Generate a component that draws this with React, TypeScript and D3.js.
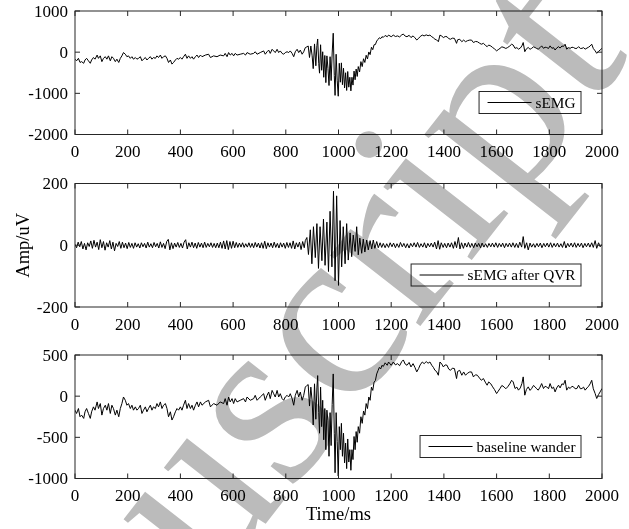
import React from 'react';
import * as d3 from 'd3';

type Pt = [number, number];

const timeTicks = [0, 200, 400, 600, 800, 1000, 1200, 1400, 1600, 1800, 2000];
const semgTicks = [-2000, -1000, 0, 1000];
const qvrTicks = [-200, 0, 200];
const baselineTicks = [-1000, -500, 0, 500];

// shared slow wander before the burst (ms, uV)
const sharedPre: Pt[] = [
  [0,-170],[6,-210],[13,-150],[19,-250],[25,-230],[33,-270],[38,-190],[44,-150],[51,-210],[58,-270],[63,-190],[70,-130],[76,-170],[84,-70],[89,-150],[96,-90],[102,-230],[108,-150],[115,-110],[121,-170],[127,-90],[134,-210],[140,-110],[146,-150],[153,-230],[159,-170],[166,-250],[172,-150],[178,-90],[184,-10],[191,-50],[197,-110],[203,-90],[210,-150],[216,-110],[222,-170],[229,-130],[235,-170],[241,-150],[248,-110],[254,-210],[260,-170],[267,-130],[273,-190],[279,-150],[286,-110],[292,-170],[298,-130],[305,-150],[311,-90],[317,-130],[324,-70],[330,-150],[336,-110],[343,-90],[349,-150],[355,-250],[362,-190],[368,-290],[374,-250],[381,-190],[387,-150],[393,-170],[400,-130],[406,-170],[412,-110],[419,-50],[425,-150],[431,-90],[438,-150],[444,-110],[450,-170],[457,-110],[463,-70],[469,-130],[476,-70],[482,-110],[495,-70],[507,-50],[514,-130],[526,-90],[539,-110],[551,-70],[564,-90],[570,-30],[577,-110],[583,-10],[589,-70],[596,-30],[602,-90],[608,-30],[615,-70],[627,-50],[640,-30],[647,-70],[653,-10],[665,-50],[678,-30],[684,10],[691,-50],[703,-10],[716,30],[722,-50],[729,10],[735,50],[741,-30],[748,70],[754,30],[760,-10],[767,70],[773,-10],[779,30],[786,-30],[792,-50],[798,-10],[805,10],[811,-10],[817,30],[824,-30],[830,-110],[836,10],[843,70],[849,-10],[855,50],[862,-50],[868,10],[874,110],[880,130]
];

const semgBurst: Pt[] = [
  [885,150],[890,-130],[895,150],[900,-90],[904,-400],[909,200],[914,-330],[918,160],[921,320],[925,-270],[928,-510],[932,180],[936,-440],[940,10],[944,-610],[948,-80],[952,-740],[956,-90],[960,-390],[964,-810],[968,-110],[972,-690],[976,-20],[980,460],[984,-570],[987,-1050],[991,-50],[995,-680],[999,-1070],[1003,-270],[1007,-730],[1011,-260],[1015,-790],[1019,-390],[1023,-870],[1027,-500],[1031,-930],[1035,-470],[1039,-850],[1043,-610],[1047,-940],[1051,-610],[1055,-800],[1059,-460],[1063,-670],[1067,-410],[1071,-590],[1075,-350],[1080,-480],[1085,-230],[1090,-350],[1095,-160],[1100,-250],[1105,-75],[1110,-165],[1115,5],[1120,-60],[1125,120],[1130,60],[1135,180],[1140,185]
];

const baselineBurst: Pt[] = [
  [885,140],[890,-120],[895,110],[900,-60],[904,-350],[909,150],[914,-280],[918,100],[921,250],[925,-200],[928,-450],[932,110],[936,-370],[940,-50],[944,-530],[948,-150],[952,-650],[956,-170],[960,-300],[964,-730],[968,-200],[972,-600],[976,-100],[980,270],[984,-450],[987,-930],[991,-200],[995,-550],[999,-970],[1003,-370],[1007,-650],[1011,-330],[1015,-730],[1019,-450],[1023,-810],[1027,-570],[1031,-880],[1035,-520],[1039,-800],[1043,-650],[1047,-900],[1051,-650],[1055,-770],[1059,-490],[1063,-650],[1067,-430],[1071,-560],[1075,-370],[1080,-450],[1085,-250],[1090,-330],[1095,-180],[1100,-230],[1105,-90],[1110,-150],[1115,-10],[1120,-50],[1125,110],[1130,70],[1135,170],[1140,190]
];

const sharedPost: Pt[] = [
  [1145,270],[1150,310],[1155,350],[1160,330],[1165,375],[1170,360],[1177,405],[1185,375],[1190,415],[1200,375],[1208,415],[1216,380],[1224,395],[1232,370],[1240,420],[1246,440],[1253,390],[1260,375],[1268,410],[1275,355],[1283,395],[1290,350],[1297,295],[1304,335],[1310,380],[1318,415],[1325,395],[1333,420],[1340,400],[1347,415],[1354,375],[1360,350],[1366,314],[1372,300],[1379,254],[1385,415],[1392,390],[1398,355],[1405,380],[1412,375],[1418,330],[1425,314],[1432,340],[1440,335],[1448,214],[1452,300],[1460,314],[1468,254],[1475,294],[1482,254],[1490,280],[1498,294],[1505,294],[1512,234],[1520,260],[1527,254],[1535,220],[1542,193],[1550,214],[1557,170],[1564,133],[1570,173],[1578,150],[1585,113],[1592,80],[1600,32],[1606,60],[1613,93],[1620,130],[1628,113],[1635,90],[1642,113],[1650,150],[1657,193],[1663,173],[1670,93],[1677,110],[1683,73],[1690,100],[1696,153],[1701,234],[1707,12],[1713,80],[1720,113],[1727,70],[1733,93],[1740,130],[1746,113],[1752,90],[1758,73],[1765,110],[1771,153],[1778,93],[1784,120],[1790,113],[1797,90],[1803,153],[1810,93],[1816,110],[1822,52],[1828,100],[1835,133],[1841,100],[1848,150],[1854,140],[1860,193],[1866,73],[1873,110],[1879,93],[1886,120],[1892,113],[1898,90],[1905,93],[1911,133],[1918,90],[1924,93],[1930,110],[1936,73],[1943,100],[1949,120],[1955,150],[1961,193],[1967,90],[1974,32],[1980,-28],[1987,20],[1993,52],[2000,93]
];

const qvrResidual: Pt[] = [
  [0,3],[6,-8],[12,10],[18,-5],[24,12],[30,-12],[36,6],[42,-15],[48,8],[54,-4],[60,14],[66,-10],[72,16],[78,-6],[84,10],[90,-14],[96,18],[102,-8],[108,12],[114,-16],[120,8],[126,-6],[132,15],[138,-12],[144,10],[150,-18],[156,6],[162,-4],[168,12],[174,-10],
  [180,10],[186,-8],[192,7],[198,-11],[204,9],[210,-7],[216,6],[222,-10],[228,8],[234,-6],[240,5],[246,-9],[252,8],[258,-5],[264,6],[270,-9],[276,10],[282,-6],[288,5],[294,-8],[300,9],[306,-5],[312,6],[318,-9],[324,11],[330,-7],[336,6],[342,-11],[348,12],[354,19],[360,-15],[366,8],[372,-11],[378,7],[384,-6],[390,9],[396,-7],[402,6],[408,-9],[414,10],[420,18],[426,-12],[432,8],[438,-6],[444,10],[450,-8],[456,7],[462,-10],[468,9],[474,-6],[480,7],[486,-8],[492,10],[498,-7],[504,6],[510,-5],[516,8],[522,-7],[528,6],[534,-8],
  [540,7],[546,-8],[552,10],[558,-10],[564,14],[570,-12],[576,15],[582,-14],[588,12],[594,-10],[600,13],[606,-8],[612,9],[618,-7],[624,7],[630,-6],[636,8],[642,-7],[648,5],[654,-6],[660,8],[666,-7],[672,6],[678,-8],[684,9],[690,-6],[696,7],[702,-9],[708,8],[714,-10],[720,13],[726,-11],[732,8],[738,-6],[744,7],[750,-8],[756,10],[762,-7],[768,6],[774,-9],[780,8],[786,-6],[792,7],[798,-10],[804,9],[810,-7],[816,8],[822,-10],[828,14],[834,-12],[840,8],[846,-6],[852,10],[858,-14],[864,12],[870,-8],
  [874,15],[880,25],[886,-30],[893,50],[899,-60],[905,60],[912,-40],[918,70],[924,-75],[930,60],[937,-50],[943,85],[949,-65],[956,75],[962,-85],[968,110],[975,-70],[981,175],[987,-115],[993,160],[1000,-130],[1006,80],[1012,-70],[1018,60],[1025,-60],[1031,70],[1037,-48],[1044,40],[1050,-37],[1056,33],[1063,-20],[1069,60],[1075,-31],[1081,23],[1088,-26],[1094,20],[1100,-22],[1107,17],[1113,-15],[1120,15],[1126,-12],[1132,17],[1138,-10],[1145,12],[1151,-8],
  [1158,8],[1164,-7],[1170,6],[1177,-8],[1183,5],[1190,-7],[1196,8],[1203,-5],[1209,7],[1216,-8],[1222,5],[1229,-7],[1235,9],[1242,-5],[1248,6],[1255,-8],[1261,5],[1268,-9],[1274,6],[1281,-5],[1287,8],[1294,-6],[1300,9],[1307,-7],[1313,5],[1320,-6],[1326,8],[1333,-9],[1339,6],[1346,-5],[1352,7],[1359,-6],[1365,10],[1372,-12],[1378,15],[1384,-13],[1390,8],[1397,-7],[1403,6],[1410,-8],[1416,7],[1423,-6],[1429,8],[1436,-10],[1442,12],[1448,-8],[1455,25],[1461,-12],[1467,8],[1474,-10],[1480,7],[1487,-6],[1493,9],[1500,-7],[1506,6],[1513,-8],[1519,7],[1526,-5],[1532,6],[1539,-8],[1545,7],[1552,-6],[1558,5],[1565,-7],[1571,6],[1578,-5],[1584,7],[1591,-6],[1597,8],[1604,-7],[1610,6],[1617,-5],[1623,7],[1630,-8],[1636,6],[1643,-5],[1649,7],[1656,-6],[1662,8],[1669,-7],[1675,6],[1682,-8],[1688,10],[1695,-6],[1701,28],[1707,-10],[1714,8],[1720,-15],[1727,7],[1733,-6],[1740,5],[1746,-7],[1753,6],[1759,-5],[1766,7],[1772,-8],[1779,6],[1785,-5],[1792,7],[1798,-6],[1805,8],[1811,-7],[1818,6],[1824,-5],[1831,7],[1837,-6],[1844,5],[1850,-7],[1857,12],[1863,-9],[1870,6],[1876,-5],[1883,7],[1889,-6],[1896,8],[1902,-7],[1909,6],[1915,-5],[1922,7],[1928,-8],[1935,6],[1941,-5],[1948,7],[1954,-6],[1961,8],[1967,-7],[1974,15],[1980,-10],[1987,8],[1993,-5],[2000,3]
];

const sEMG: Pt[] = [...sharedPre, ...semgBurst, ...sharedPost];
const baselineWander: Pt[] = [...sharedPre, ...baselineBurst, ...sharedPost];

const W = 629;
const H = 529;
const LEFT = 75;
const RIGHT = 602;
const PANEL_H = 123.5;
const TOPS = [11, 183.5, 355];
const FONT = '"Liberation Serif", "Times New Roman", serif';
const AXIS_COLOR = '#262626';
const TICK_FS = 17;
const LEG_FS = 15.3;
const LABEL_FS = 18.5;
const TICK_LEN = 5;

const panels = [
  { data: sEMG, domain: [-2000, 1000], ticks: semgTicks, legend: 'sEMG' },
  { data: qvrResidual, domain: [-200, 200], ticks: qvrTicks, legend: 'sEMG after QVR' },
  { data: baselineWander, domain: [-1000, 500], ticks: baselineTicks, legend: 'baseline wander' },
];

function measure(text: string, size: number): number {
  const c = document.createElement('canvas').getContext('2d');
  if (!c) return text.length * size * 0.45;
  c.font = `${size}px "Liberation Serif"`;
  return c.measureText(text).width;
}

export default function App() {
  const x = d3.scaleLinear().domain([0, 2000]).range([LEFT, RIGHT]);
  return (
    <svg width={W} height={H} style={{ position: 'absolute', left: 0, top: 0, display: 'block', background: '#fff' }} fontFamily={FONT}>
      <rect x={0} y={0} width={W} height={H} fill="#fff" />
      <defs>
        {panels.map((p, i) => (
          <clipPath id={`clip${i}`} key={i}>
            <rect x={LEFT} y={TOPS[i]} width={RIGHT - LEFT} height={PANEL_H} />
          </clipPath>
        ))}
      </defs>
      {panels.map((p, i) => {
        const top = TOPS[i];
        const bottom = top + PANEL_H;
        const y = d3.scaleLinear().domain(p.domain).range([bottom, top]);
        const line = d3.line<Pt>().x(d => x(d[0])).y(d => y(d[1]));
        const tw = measure(p.legend, LEG_FS);
        const boxH = 22;
        const boxR = RIGHT - 21;
        const boxW = 8.5 + 44 + 4 + tw + 5.5;
        const boxL = boxR - boxW;
        const boxB = bottom - 21;
        const boxT = boxB - boxH;
        return (
          <g key={i}>
            <path d={line(p.data) || ''} fill="none" stroke="#000" strokeWidth={1} clipPath={`url(#clip${i})`} strokeLinejoin="round" />
            <rect x={LEFT} y={top} width={RIGHT - LEFT} height={PANEL_H} fill="none" stroke={AXIS_COLOR} strokeWidth={1} />
            {timeTicks.map(t => (
              <g key={t}>
                <line x1={x(t)} x2={x(t)} y1={bottom} y2={bottom - TICK_LEN} stroke={AXIS_COLOR} />
                <line x1={x(t)} x2={x(t)} y1={top} y2={top + TICK_LEN} stroke={AXIS_COLOR} />
                <text x={x(t)} y={bottom + 22.5} textAnchor="middle" fontSize={TICK_FS} fill="#000">{t}</text>
              </g>
            ))}
            {p.ticks.map(t => (
              <g key={t}>
                <line x1={LEFT} x2={LEFT + TICK_LEN} y1={y(t)} y2={y(t)} stroke={AXIS_COLOR} />
                <line x1={RIGHT} x2={RIGHT - TICK_LEN} y1={y(t)} y2={y(t)} stroke={AXIS_COLOR} />
                <text x={LEFT - 7} y={y(t)} dy="0.35em" textAnchor="end" fontSize={TICK_FS} fill="#000">{t}</text>
              </g>
            ))}
            <rect x={boxL} y={boxT} width={boxW} height={boxH} fill="#fff" stroke={AXIS_COLOR} strokeWidth={1} />
            <line x1={boxL + 8.5} x2={boxL + 8.5 + 44} y1={boxT + boxH / 2} y2={boxT + boxH / 2} stroke="#000" strokeWidth={1} />
            <text x={boxL + 8.5 + 44 + 4} y={boxT + boxH / 2} dy="0.33em" fontSize={LEG_FS} fill="#000">{p.legend}</text>
          </g>
        );
      })}
      <text transform={`translate(28.5, ${TOPS[1] + PANEL_H / 2}) rotate(-90)`} textAnchor="middle" fontSize={LABEL_FS} fill="#000">Amp/uV</text>
      <text x={(LEFT + RIGHT) / 2} y={520} textAnchor="middle" fontSize={LABEL_FS} fill="#000">Time/ms</text>
      <g transform="translate(289,494) rotate(-52)" style={{ mixBlendMode: 'multiply' }} fill="#bbbbbb" fontSize={250} fontFamily={FONT}>
        <text x={0} y={0} textAnchor="end">Manu</text>
        <text x={0} y={0}>script</text>
      </g>
    </svg>
  );
}
